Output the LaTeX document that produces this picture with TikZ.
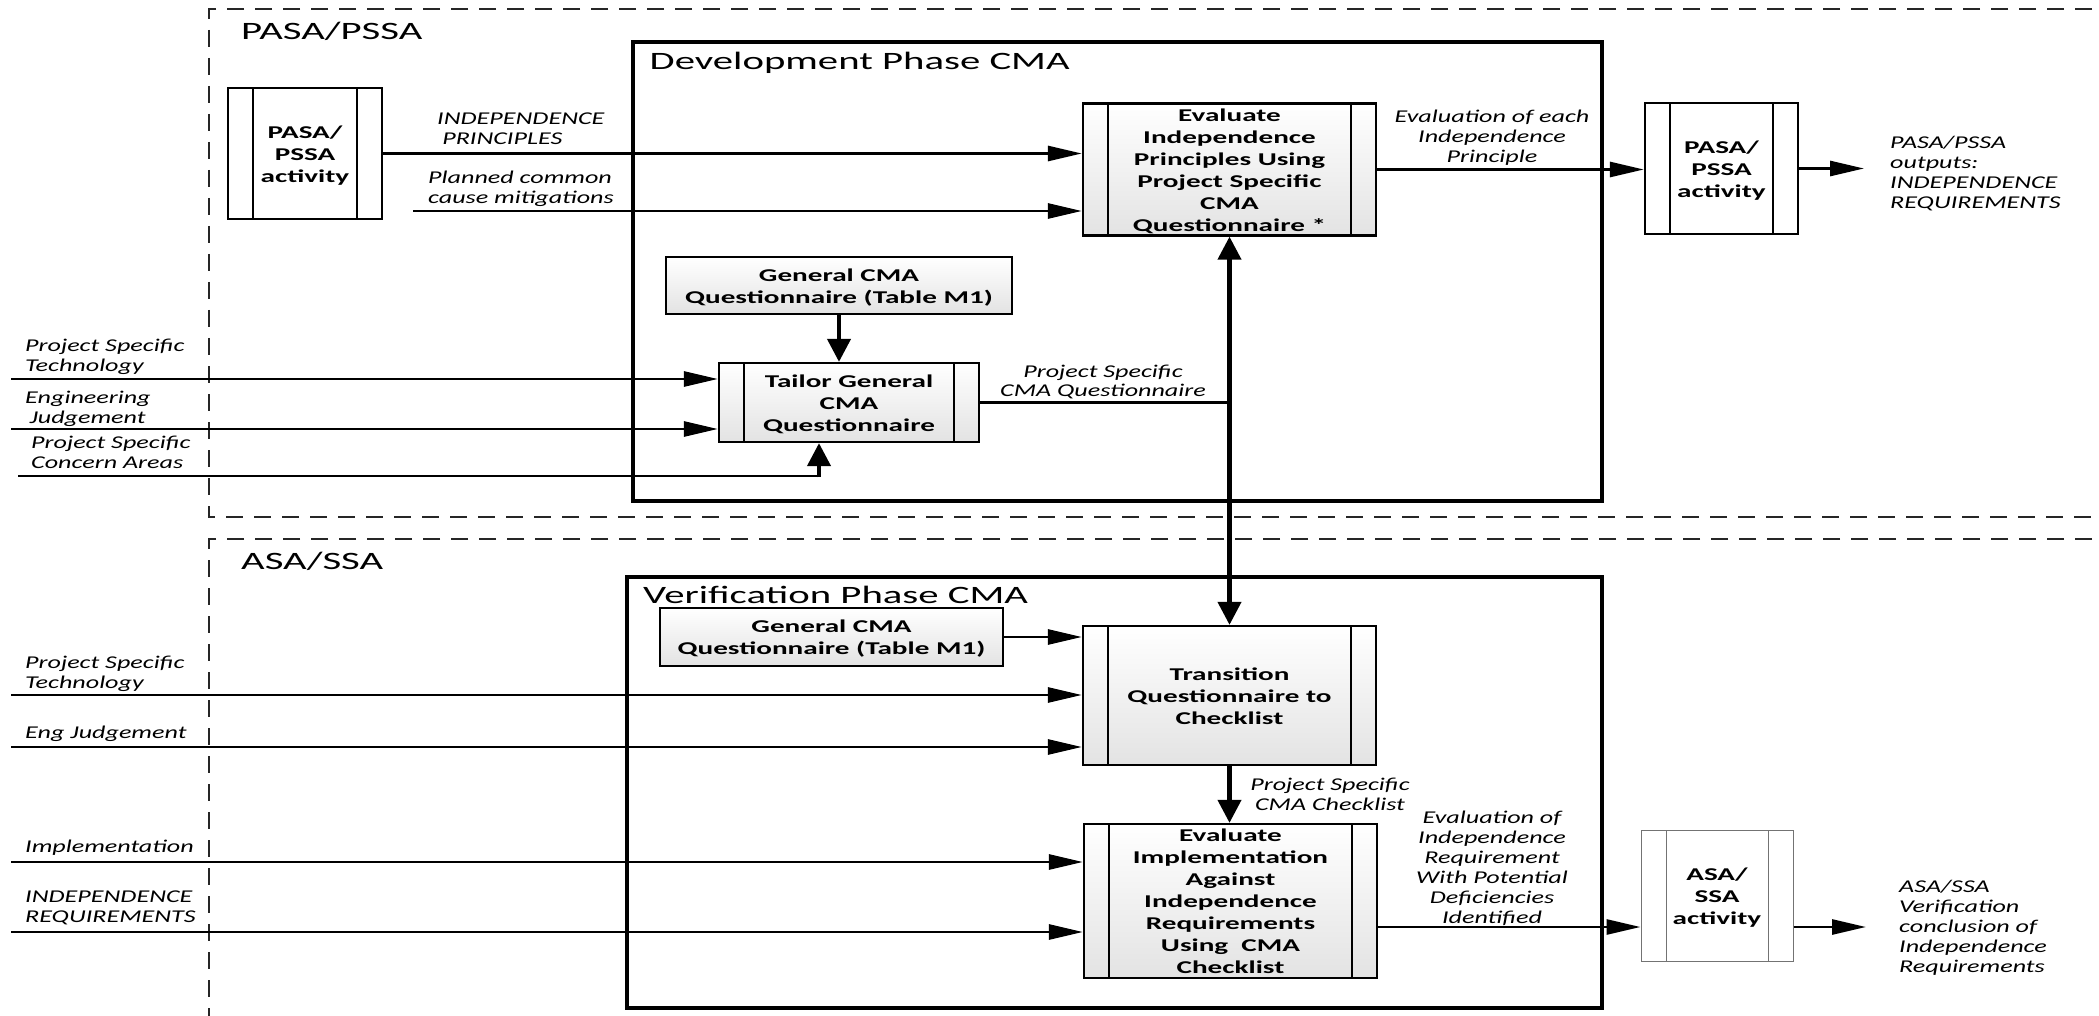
\documentclass[tikz,border=0pt]{standalone}
\usepackage{fontspec}
\setmainfont{Carlito}
\usepackage{graphicx}
\usetikzlibrary{arrows.meta}

% horizontal stretch factors of the three text kinds
\newcommand\bsx{1.62}
\newcommand\isx{1.45}
\newcommand\tsx{1.63}
\newcommand\boxtxt[1]{\raisebox{-2.5pt}[\height][\depth]{\scalebox{\bsx}[1]{\begin{tabular}{@{}c@{}}#1\end{tabular}}}}
\newcommand\lbltxt[2][l]{\scalebox{\isx}[1]{\begin{tabular}[t]{@{}#1@{}}#2\end{tabular}}}
\newcommand\ttltxt[1]{\scalebox{\tsx}[1]{#1}}

\tikzset{
  bars/.style={path picture={
      \draw[line width=#1]
        ([xshift=25pt]path picture bounding box.north west) -- ([xshift=25pt]path picture bounding box.south west)
        ([xshift=-25pt]path picture bounding box.north east) -- ([xshift=-25pt]path picture bounding box.south east);}},
  pbox/.style={draw, line width=2.3pt, inner sep=0pt, font=\bfseries\fontsize{18}{22}\selectfont, bars=2.6pt},
  shaded/.style={top color=white, bottom color=black!11},
  plainbox/.style={draw, line width=2.3pt, inner sep=0pt, font=\bfseries\fontsize{18}{22}\selectfont, shaded},
  thinbox/.style={draw=black!55, line width=1pt, inner sep=0pt, fill=white, font=\bfseries\fontsize{18}{22}\selectfont,
      path picture={
      \draw[line width=1pt, black!55]
        ([xshift=25pt]path picture bounding box.north west) -- ([xshift=25pt]path picture bounding box.south west)
        ([xshift=-25pt]path picture bounding box.north east) -- ([xshift=-25pt]path picture bounding box.south east);}},
  hframe/.style={line width=3.2pt, line cap=rect},
  vframe/.style={line width=4.8pt},
  zone/.style={line width=1.6pt, dash pattern=on 17pt off 11pt, black!85},
  hlink/.style={line width=2.8pt},
  vlink/.style={line width=4.2pt},
  harr/.style={hlink, -{Triangle[length=34pt,width=15pt]}},
  varr/.style={vlink, -{Triangle[length=23pt,width=23pt]}},
  lab/.style={inner sep=0pt, font=\itshape\fontsize{18}{20}\selectfont, anchor=base west},
  clab/.style={lab, anchor=base},
  ttl/.style={inner sep=0pt, font=\fontsize{25}{30}\selectfont, anchor=base west},
}

\begin{document}
\begin{tikzpicture}[x=1pt, y=-1pt]
  \fill[white] (0,0) rectangle (2099,1016);
  \path[use as bounding box] (0,0) rectangle (2099,1016);
  \clip (0,0) rectangle (2099,1016);

  % analysis zones
  \draw[zone] (2120,9) -- (209,9) -- (209,517) -- (2120,517);
  \draw[zone] (2120,539) -- (209,539) -- (209,1030);
  \node[ttl] (zoneA) at (241,40) {\ttltxt{PASA/PSSA}};
  \node[ttl] (zoneB) at (241,569) {\ttltxt{ASA/SSA}};

  % phase frames: the upright sides are drawn heavier
  \draw[hframe] (633,42) -- (1602,42) (633,501) -- (1602,501);
  \draw[vframe] (633,40.4) -- (633,502.6) (1602,40.4) -- (1602,502.6);
  \node[ttl] (devt) at (649.5,70) {\ttltxt{Development Phase CMA}};
  \draw[hframe] (627,577) -- (1602,577) (627,1008) -- (1602,1008);
  \draw[vframe] (627,575.4) -- (627,1009.6) (1602,575.4) -- (1602,1009.6);
  \node[ttl] (vert) at (643,603) {\ttltxt{Verification Phase CMA}};

  % process boxes, development phase
  \node[pbox, fill=white, minimum width=154pt, minimum height=131pt] (P1) at (305,153.5) {\boxtxt{PASA/\\PSSA\\activity}};
  \node[pbox, shaded, minimum width=293pt, minimum height=131pt] (E1) at (1229.5,169.5)
    {\boxtxt{Evaluate\\Independence\\Principles Using\\Project Specific\\CMA\\Questionnaire *}};
  \node[plainbox, minimum width=346pt, minimum height=57pt] (G1) at (839,285.5) {\boxtxt{General CMA\\Questionnaire (Table M1)}};
  \node[pbox, shaded, minimum width=260pt, minimum height=79pt] (T) at (849,402.5) {\boxtxt{Tailor General\\CMA\\Questionnaire}};
  \node[pbox, fill=white, minimum width=153pt, minimum height=131pt] (P2) at (1721.5,168.5) {\boxtxt{PASA/\\PSSA\\activity}};

  % process boxes, verification phase
  \node[plainbox, minimum width=343pt, minimum height=58pt] (G2) at (831.5,637) {\boxtxt{General CMA\\Questionnaire (Table M1)}};
  \node[pbox, shaded, minimum width=293pt, minimum height=139pt] (TQ) at (1229.5,695.5) {\boxtxt{Transition\\Questionnaire to\\Checklist}};
  \node[pbox, shaded, minimum width=293pt, minimum height=154pt] (EI) at (1230.5,901)
    {\boxtxt{Evaluate\\Implementation\\Against\\Independence\\Requirements\\Using~~CMA\\Checklist}};
  \node[thinbox, minimum width=152pt, minimum height=131pt] (ASA) at (1717,895.5) {\boxtxt{ASA/\\SSA\\activity}};

  % free ends of connectors
  \coordinate (plan) at (413,211);
  \coordinate (pst1) at (11,379);
  \coordinate (ej1) at (11,429);
  \coordinate (pca1) at (18,476);
  \coordinate (pcaT) at (819,476);
  \coordinate (pout) at (1864,168.5);
  \coordinate (pst2) at (11,695);
  \coordinate (ej2) at (11,747);
  \coordinate (imp) at (11,862);
  \coordinate (ireq) at (11,932);
  \coordinate (eiout) at (1377,927);
  \coordinate (aout) at (1866,927);
  \coordinate (jn) at (E1.south |- T.east);

  % connectors, development phase
  \draw[harr] (P1.east) -- (P1.east -| E1.west);
  \draw[harr] (plan) -- (plan -| E1.west);
  \draw[varr] (G1.south) -- (G1.south |- T.north);
  \draw[harr] (pst1) -- (pst1 -| T.west);
  \draw[harr] (ej1) -- (ej1 -| T.west);
  \draw[hlink] (pca1) -- ([xshift=2.1pt]pcaT);
  \draw[varr] ([yshift=-1.4pt]pcaT) -- (pcaT |- T.south);
  \draw[hlink] (T.east) -- ([xshift=2.1pt]jn);
  \draw[varr] (jn) -- (E1.south);
  \draw[varr] (jn) -- (TQ.north);
  \draw[harr] (E1.east) -- (E1.east -| P2.west);
  \draw[harr] (P2.east) -- (pout);

  % connectors, verification phase
  \draw[harr] (G2.east) -- (G2.east -| TQ.west);
  \draw[harr] (pst2) -- (pst2 -| TQ.west);
  \draw[harr] (ej2) -- (ej2 -| TQ.west);
  \draw[varr] (TQ.south) -- (TQ.south |- EI.north);
  \draw[harr] (imp) -- (imp -| EI.west);
  \draw[harr] (ireq) -- (ireq -| EI.west);
  \draw[harr] (eiout) -- (eiout -| ASA.west);
  \draw[harr] (eiout -| ASA.east) -- (aout);

  % connector labels
  \node[lab] (lip) at (437,125) {\lbltxt{INDEPENDENCE\\\hspace{3.5pt}PRINCIPLES}};
  \node[lab] (lpc) at (428,184) {\lbltxt{Planned common\\cause mitigations}};
  \node[lab] (lpt1) at (25,352) {\lbltxt{Project Specific\\Technology}};
  \node[lab] (lej1) at (25,403) {\lbltxt{Engineering\\\hspace{3pt}Judgement}};
  \node[lab] (lpca) at (31,448) {\lbltxt{Project Specific\\Concern Areas}};
  \node[clab] (lpsq) at (1103,377) {\lbltxt[c]{Project Specific\\CMA Questionnaire}};
  \node[clab] (levp) at (1492,123) {\lbltxt[c]{Evaluation of each\\Independence\\Principle}};
  \node[lab] (lpo) at (1890,149) {\lbltxt{PASA/PSSA\\outputs:\\INDEPENDENCE\\REQUIREMENTS}};
  \node[lab] (lpt2) at (25,668) {\lbltxt{Project Specific\\Technology}};
  \node[lab] (lej2) at (25,738) {\lbltxt{Eng Judgement}};
  \node[lab] (limp) at (25,852) {\lbltxt{Implementation}};
  \node[lab] (lir) at (25,902) {\lbltxt{INDEPENDENCE\\REQUIREMENTS}};
  \node[clab] (lpsc) at (1330,790) {\lbltxt[c]{Project Specific\\CMA Checklist}};
  \node[clab] (levr) at (1492,823) {\lbltxt[c]{Evaluation of\\Independence\\Requirement\\With Potential\\Deficiencies\\Identified}};
  \node[lab] (lao) at (1899,892) {\lbltxt{ASA/SSA\\Verification\\conclusion of\\Independence\\Requirements}};
\end{tikzpicture}
\end{document}
